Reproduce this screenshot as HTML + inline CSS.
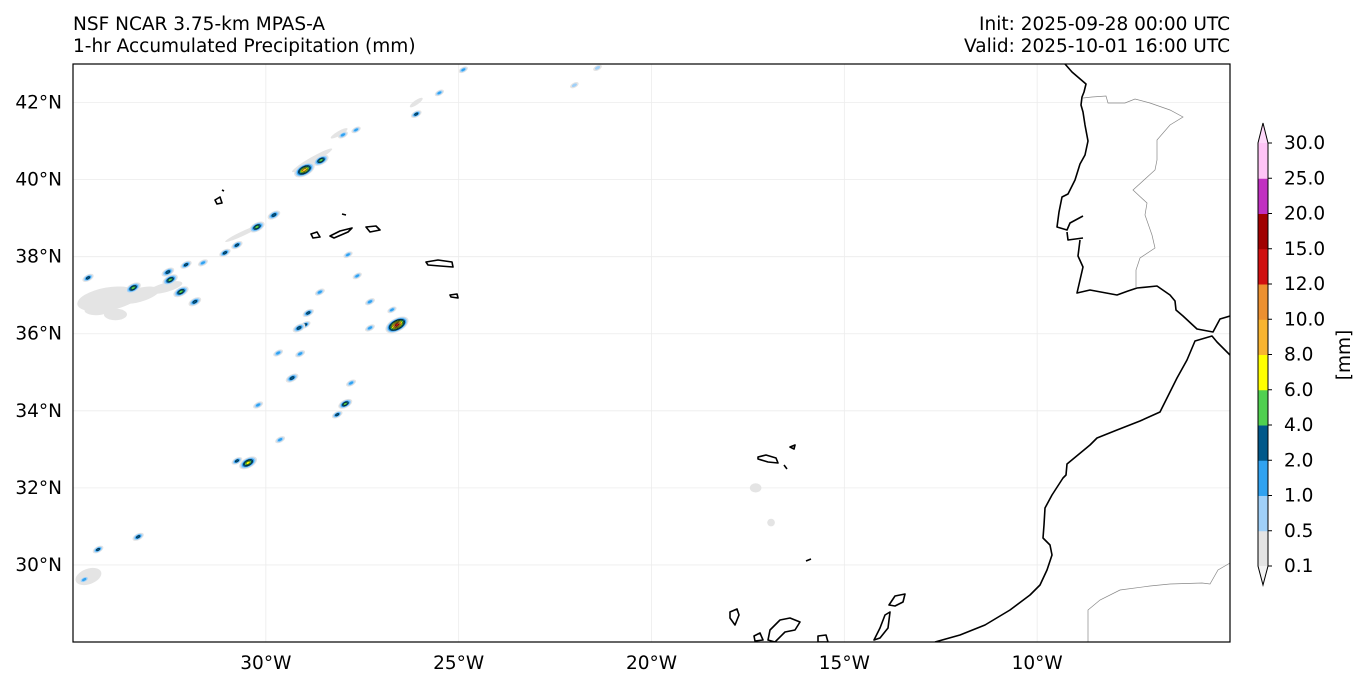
<!DOCTYPE html>
<html><head><meta charset="utf-8">
<style>
body{margin:0;background:#fff;width:1366px;height:687px;overflow:hidden;font-family:"Liberation Sans","DejaVu Sans",sans-serif}
svg text{font-family:"DejaVu Sans","Liberation Sans",sans-serif;font-size:18.5px;fill:#000}
</style></head>
<body>
<svg id="chart" width="1366" height="687" viewBox="0 0 1366 687" xmlns="http://www.w3.org/2000/svg">
<text x="73" y="30">NSF NCAR 3.75-km MPAS-A</text>
<text x="73" y="52">1-hr Accumulated Precipitation (mm)</text>
<text x="1230" y="30" text-anchor="end">Init: 2025-09-28 00:00 UTC</text>
<text x="1230" y="52" text-anchor="end">Valid: 2025-10-01 16:00 UTC</text>
<defs><clipPath id="mapclip"><rect x="73" y="64" width="1157" height="578"/></clipPath></defs>
<g id="grid"></g>
<g id="precip" clip-path="url(#mapclip)"></g>
<g id="coast" clip-path="url(#mapclip)" fill="none" stroke="#000" stroke-width="1.6" stroke-linejoin="round">
<path d="M1065,64 L1072,72 L1079,78 L1086,84 L1084,92 L1082,97 L1081,105 L1083,112 L1085,125 L1088,141 L1085,155 L1080,164 L1075,180 L1068,194 L1062,197 L1059,212 L1057,227 L1067,230 L1070,223 L1083,216 M1067,232 L1068,240 L1083,238 M1080,240 L1078,256 L1083,267 L1080,280 L1077,293 L1090,290 L1117,295 L1128,291 L1137,288 L1157,286 L1170,295 L1175,301 L1176,310 L1183,316 L1197,329 L1213,332 L1220,319 L1230,316"/>
<path d="M1230,355 L1217,342 L1212,336 L1195,341 L1187,360 L1177,378 L1160,412 L1140,421 L1117,430 L1097,438 L1090,445 L1067,464 L1066,475 L1063,478 L1052,495 L1045,508 L1044,525 L1043,538 L1050,545 L1052,555 L1047,570 L1040,585 L1030,595 L1010,610 L985,625 L960,635 L935,642"/>
<path d="M758,457 L766,455 L776,458 L778,463 L768,462 L758,459Z M790,447 L795,445 L794,449Z M784,465 L787,469"/>
<path d="M730,612 L737,609 L739,615 L735,625 L730,618Z M754,636 L760,633 L763,640 L755,641Z M770,630 L780,620 L790,618 L800,622 L795,630 L785,632 L775,642 L768,640Z M818,636 L826,635 L828,642 L818,642Z M874,640 L880,628 L885,615 L890,612 L888,628 L880,638Z M889,605 L895,596 L905,594 L903,602 L895,606Z"/>
<path d="M215,200 L220,197 L222,203 L217,204Z M222,190 L224,191 M311,234 L317,232 L320,237 L313,238Z M330,236 L340,231 L352,228 L348,232 L334,238Z M342,214 L346,215 M366,227 L376,226 L380,230 L370,232Z M426,262 L438,260 L452,262 L453,267 L440,266 L428,265Z M450,295 L457,294 L458,298 L451,297Z M806,561 L811,559"/>
</g>
<g id="borders" clip-path="url(#mapclip)" fill="none" stroke="#888" stroke-width="0.7">
<path d="M1083,98 L1092,97 L1106,96 L1108,103 L1125,103 L1135,99 L1150,103 L1170,110 L1183,117 L1170,125 L1157,140 L1157,160 L1155,170 L1133,190 L1147,203 L1145,215 L1152,235 L1155,248 L1140,258 L1136,270 L1136,288"/>
<path d="M1088,642 L1088,610 L1100,600 L1120,590 L1150,586 L1170,584 L1202,583 L1210,584 L1218,570 L1230,563"/>
</g>
<rect x="73" y="64" width="1157" height="578" fill="none" stroke="#000" stroke-width="1.2"/>
<g id="axes"></g>
<g id="cbar"></g>
<text transform="translate(1350,355) rotate(-90)" text-anchor="middle">[mm]</text>
</svg>
<script>
const lonTicks=[-30,-25,-20,-15,-10];
const latTicks=[30,32,34,36,38,40,42];
const levels=[0.1,0.5,1.0,2.0,4.0,6.0,8.0,10.0,12.0,15.0,20.0,25.0,30.0];
const levelColors=["#e4e4e4","#a0d0f8","#30a2f0","#00588a","#50d050","#ffff00","#f8b430","#ec9030","#d01010","#a00000","#c030c0","#ffc4f6"];
// cells: lon, lat, peak mm
const cellLon=[-29.0,-28.57,-28.0,-27.66,-29.79,-30.23,-30.75,-31.06,-31.63,-32.07,-32.54,-32.48,-33.44,-34.61,-32.2,-31.84,-26.6,-27.3,-28.98,-29.14,-28.9,-28.6,-27.87,-27.63,-27.3,-26.73,-29.68,-29.11,-29.32,-27.79,-27.94,-28.15,-30.2,-29.63,-30.46,-30.75,-34.35,-33.31,-34.71,-25.5,-26.1,-24.88,-21.4,-22.0];
const cellLat=[40.25,40.5,41.16,41.29,39.08,38.77,38.3,38.1,37.84,37.79,37.6,37.4,37.19,37.45,37.09,36.83,36.23,36.15,36.23,36.15,36.54,37.08,38.05,37.5,36.83,36.62,35.5,35.48,34.85,34.72,34.18,33.9,34.15,33.25,32.65,32.7,30.4,30.73,29.62,42.25,41.7,42.85,42.9,42.45];
const cellVal=[10,6,2,1.5,4,6,3,3,2,3,4,6,6,3,6,4,14,2,2.5,4,3,2,1.5,1.5,2,1.5,2,2,4,2,5,2.5,2,2,8,2.5,2.5,3,2,1.5,2.5,1.5,1,1];
// light drizzle areas: lon, lat, half-width (deg), half-height (deg), rotation
const drizLon=[-34.1,-33.3,-34.4,-28.8,-30.6,-17.3,-16.9,-34.6,-32.6,-33.9,-26.1,-28.1];
const drizLat=[36.9,37.0,36.6,40.5,38.6,32.0,31.1,29.7,37.2,36.5,42.0,41.2];
const drizW=[0.8,0.55,0.3,0.6,0.5,0.15,0.1,0.2,0.45,0.3,0.2,0.25];
const drizH=[0.3,0.18,0.12,0.08,0.06,0.12,0.1,0.35,0.12,0.15,0.06,0.06];
const drizRot=[-10,-15,0,-30,-25,0,0,70,-15,0,-35,-30];

const X0=73,X1=1230,Y0=64,Y1=642,LON0=-35,LON1=-5,LAT0=28,LAT1=43;
const xs=lon=>X0+(lon-LON0)/(LON1-LON0)*(X1-X0);
const ys=lat=>Y1-(lat-LAT0)/(LAT1-LAT0)*(Y1-Y0);
const NS="http://www.w3.org/2000/svg";
function mk(tag,attrs,parent){const e=document.createElementNS(NS,tag);for(const k in attrs)e.setAttribute(k,attrs[k]);parent.appendChild(e);return e;}
const grid=document.getElementById('grid'),axes=document.getElementById('axes'),pr=document.getElementById('precip'),cb=document.getElementById('cbar');
lonTicks.forEach(l=>{const x=xs(l);
 const g=mk('line',{x1:x,x2:x,y1:Y0,y2:Y1,stroke:'#ececec','stroke-width':0.8},grid);
 
 
 const t=mk('text',{x:x,y:669,'text-anchor':'middle'},axes);t.textContent=(-l)+'°W';
 
 });
latTicks.forEach(l=>{const y=ys(l);
 const g=mk('line',{x1:X0,x2:X1,y1:y,y2:y,stroke:'#ececec','stroke-width':0.8},grid);
 
 
 const t=mk('text',{x:62,y:y+6,'text-anchor':'end'},axes);t.textContent=l+'°N';
 
 });
drizLon.forEach((lo,i)=>{const cx=xs(lo),cy=ys(drizLat[i]);
 const e=mk('ellipse',{cx:cx,cy:cy,rx:drizW[i]*38.55,ry:drizH[i]*38.55,fill:levelColors[0],transform:`rotate(${drizRot[i]} ${cx} ${cy})`},pr);
 
 });
cellLon.forEach((lo,i)=>{const cx=xs(lo),cy=ys(cellLat[i]),v=cellVal[i];
 const g=mk('g',{transform:`rotate(-28 ${cx} ${cy})`},pr);
 
 
 let n=0;for(let k=0;k<levels.length-1;k++){if(v>levels[k])n=k;}
 const base=2.5+Math.min(v,12)*0.45;
 for(let k=0;k<=n;k++){const f=1-k/(n+1.5);
  mk('ellipse',{cx:cx,cy:cy,rx:base*f*1.6,ry:base*f*0.85,fill:levelColors[k],stroke:k>=3?'#000':'none','stroke-width':0.4},g);}
});
// colorbar
const CX=1258,CW=10,cy0=566,step=(566-143)/12;
for(let k=0;k<levelColors.length;k++){
 const r=mk('rect',{x:CX,y:cy0-(k+1)*step,width:CW,height:step+0.5,fill:levelColors[k]},cb);
 
 }
mk('polygon',{points:`${CX},143 ${CX+CW/2},123 ${CX+CW},143`,fill:'#ffd8fa'},cb);
mk('polygon',{points:`${CX},566 ${CX+CW/2},585 ${CX+CW},566`,fill:'#f4f4f4'},cb);
mk('path',{d:`M${CX},143 L${CX+CW/2},123 L${CX+CW},143 L${CX+CW},566 L${CX+CW/2},585 L${CX},566Z`,fill:'none',stroke:'#000','stroke-width':1},cb);
levels.forEach((l,k)=>{const y=cy0-k*step;
 mk('line',{x1:CX+CW,x2:CX+CW+4,y1:y,y2:y,stroke:'#000'},cb);
 const t=mk('text',{x:1284,y:y+6},cb);t.textContent=l.toFixed(1);
 
 });
</script>
</body></html>
